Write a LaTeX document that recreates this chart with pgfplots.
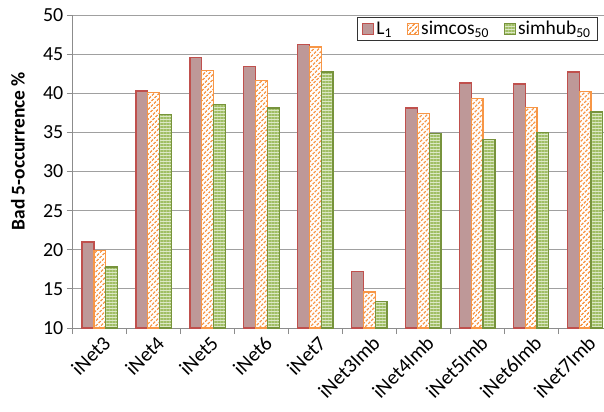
\documentclass[border=0pt]{standalone}
\usepackage{pgfplots}
\pgfplotsset{compat=1.18}
\usepackage{fontspec}
\setmainfont{Carlito}
\usetikzlibrary{patterns.meta}
\definecolor{lred}{RGB}{192,80,77}
\definecolor{lrose}{RGB}{190,152,152}
\definecolor{lorange}{RGB}{247,150,70}
\definecolor{lgreen}{RGB}{119,147,60}
\definecolor{lgreenfill}{RGB}{220,232,198}
\definecolor{lgreenline}{RGB}{160,190,100}
\definecolor{gridgray}{RGB}{160,160,160}
\definecolor{axisgray}{RGB}{140,140,140}
\begin{document}
\begin{tikzpicture}
\path[use as bounding box] (-72.8bp,-84bp) rectangle (531.2bp,328bp);
\clip (-72.8bp,-84bp) rectangle (531.2bp,328bp);
\begin{axis}[
  at={(0,0)}, anchor=south west,
  scale only axis, width=539.2bp, height=313bp,
  ymin=10, ymax=50, ytick={10,15,...,50},
  xmin=-0.5, xmax=9.5,
  ybar=0pt, bar width=11.8bp,
  axis lines*=left,
  axis line style={draw=axisgray, line width=0.8bp},
  ymajorgrids, grid style={draw=gridgray, line width=0.8bp},
  tick align=outside, major tick length=6bp,
  tick style={draw=axisgray, line width=0.8bp},
  xtick={-0.5,0.5,...,9.5},
  x tick label as interval,
  xticklabels={iNet3,iNet4,iNet5,iNet6,iNet7,iNet3Imb,iNet4Imb,iNet5Imb,iNet6Imb,iNet7Imb},
  /pgf/number format/assume math mode=true,
  yticklabel style={font=\fontsize{20}{22}\selectfont},
  xticklabel style={font=\fontsize{20.5}{22}\selectfont, rotate=45, anchor=east, inner sep=1bp, yshift=-9bp, xshift=2bp},
  ylabel={Bad 5-occurrence \%},
  ylabel style={font=\bfseries\fontsize{19.5}{22}\selectfont, at={(axis description cs:-0.102,0.565)}, anchor=center},
  legend columns=3,
  legend style={at={(0.974,0.9936)}, anchor=north east, font=\fontsize{19.5}{22}\selectfont,
    draw=black!80, line width=0.8bp, inner xsep=5bp, inner ysep=2bp,
    /tikz/every even column/.append style={column sep=13bp}},
  legend image code/.code={\draw[#1, line width=1.2bp] (0bp,-5.5bp) rectangle (11bp,5.5bp);},
]
\addplot[draw=lred, line width=1.3bp, fill=lrose] coordinates {
(0,21.0) (1,40.3) (2,44.6) (3,43.4) (4,46.2) (5,17.2) (6,38.1) (7,41.3) (8,41.2) (9,42.7)};
\addlegendentry{L\textsubscript{1}}
\addplot[draw=lorange, line width=1.3bp, fill=white, postaction={pattern={Lines[angle=45,distance=3.6bp,line width=1.6bp]}, pattern color=lorange}] coordinates {
(0,19.9) (1,40.1) (2,42.9) (3,41.6) (4,45.9) (5,14.6) (6,37.4) (7,39.3) (8,38.2) (9,40.2)};
\addlegendentry{simcos\textsubscript{50}}
\addplot[draw=lgreen, line width=1.3bp, fill=lgreenfill, postaction={pattern={Lines[angle=0,distance=3bp,line width=1.2bp]}, pattern color=lgreenline}] coordinates {
(0,17.8) (1,37.3) (2,38.6) (3,38.1) (4,42.7) (5,13.4) (6,34.9) (7,34.1) (8,35.0) (9,37.6)};
\addlegendentry{simhub\textsubscript{50}}
\end{axis}
\end{tikzpicture}
\end{document}
